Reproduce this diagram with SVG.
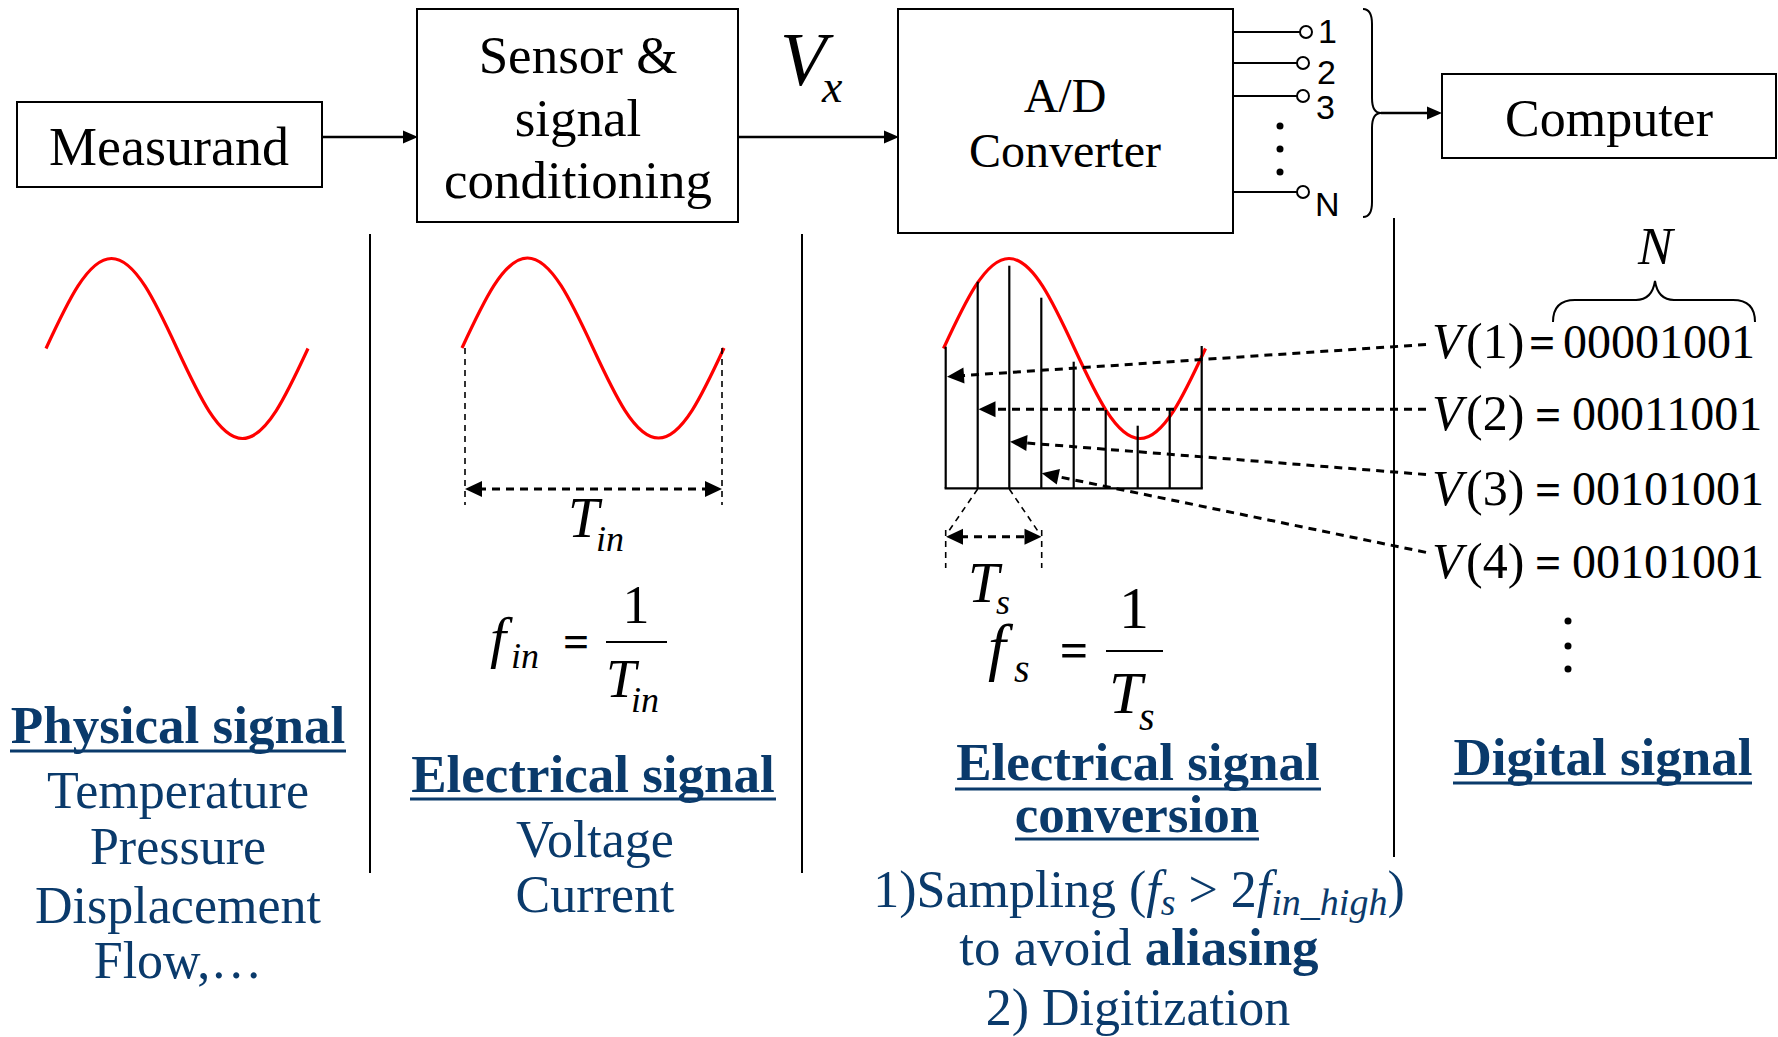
<svg xmlns="http://www.w3.org/2000/svg" width="1778" height="1037" viewBox="0 0 1778 1037">
<style>
.box{fill:#fff;stroke:#000;stroke-width:2}
.t{font-family:"Liberation Serif","Times New Roman",serif;fill:#000}
.a{font-family:"Liberation Sans",Arial,sans-serif;fill:#000;font-size:34px}
.blue{font-family:"Liberation Serif","Times New Roman",serif;fill:#0a3a6b;text-anchor:middle}
.b{font-weight:bold}
.it{font-style:italic}
.ul{stroke:#0a3a6b;stroke-width:3}
.ln{stroke:#000;stroke-width:2;fill:none}
.con{stroke:#000;stroke-width:2.5;fill:none}
.smp{stroke:#000;stroke-width:2.2;fill:none}
.dash{stroke:#000;stroke-width:3;stroke-dasharray:8 6;fill:none}
.dthin{stroke:#000;stroke-width:1.6;stroke-dasharray:6 5;fill:none}
.sine{fill:none;stroke:#ff0000;stroke-width:3.2}
.mid{text-anchor:middle}
.head{fill:#000;stroke:none}
</style>
<defs>
<path id="wave" d="M0 0 C21.36 -46.1 41.8 -90 65.5 -90 C89.2 -90 109.64 -46.1 131 0 C152.36 46.1 172.8 90 196.5 90 C220.2 90 240.64 46.1 262 0"/>
<path id="hs" d="M0 0 L-15 -6.5 L-15 6.5 z"/>
<path id="hd" d="M0 0 L-17 -8 L-17 8 z"/>
</defs>
<rect width="1778" height="1037" fill="#fff"/>

<g id="connectors">
<line class="con" x1="322" y1="137" x2="405" y2="137"/>
<use href="#hs" class="head" transform="translate(418,137)"/>
<line class="con" x1="738" y1="137" x2="886" y2="137"/>
<use href="#hs" class="head" transform="translate(899,137)"/>
<line class="con" x1="1381" y1="113" x2="1430" y2="113"/>
<use href="#hs" class="head" transform="translate(1442,113)"/>
</g>

<g id="measurand">
<rect class="box" x="17" y="102" width="305" height="85"/>
<text class="t mid" x="169" y="165" font-size="54">Measurand</text>
</g>

<g id="sensor">
<rect class="box" x="417" y="9" width="321" height="213"/>
<text class="t mid" x="578" y="73" font-size="53">Sensor &amp;</text>
<text class="t mid" x="578" y="136" font-size="53">signal</text>
<text class="t mid" x="578" y="198" font-size="53">conditioning</text>
</g>

<g id="vx">
<text class="t it" x="780" y="85" font-size="76">V</text>
<text class="t it" x="822" y="102" font-size="46">x</text>
</g>

<g id="adc">
<rect class="box" x="898" y="9" width="335" height="224"/>
<text class="t mid" x="1065" y="112" font-size="48">A/D</text>
<text class="t mid" x="1065" y="167" font-size="48">Converter</text>
</g>

<g id="outputs">
<line class="ln" x1="1233" y1="32" x2="1300" y2="32"/>
<circle cx="1306" cy="32" r="6" fill="#fff" stroke="#000" stroke-width="2"/>
<line class="ln" x1="1233" y1="63" x2="1297" y2="63"/>
<circle cx="1303" cy="63" r="6" fill="#fff" stroke="#000" stroke-width="2"/>
<line class="ln" x1="1233" y1="96" x2="1297" y2="96"/>
<circle cx="1303" cy="96" r="6" fill="#fff" stroke="#000" stroke-width="2"/>
<line class="ln" x1="1233" y1="192" x2="1297" y2="192"/>
<circle cx="1303" cy="192" r="6" fill="#fff" stroke="#000" stroke-width="2"/>
<circle cx="1280" cy="126" r="3.5"/>
<circle cx="1280" cy="149" r="3.5"/>
<circle cx="1280" cy="172" r="3.5"/>
<text class="a" x="1318" y="43">1</text>
<text class="a" x="1317" y="84">2</text>
<text class="a" x="1316" y="119">3</text>
<text class="a" x="1315" y="216">N</text>
<path class="ln" d="M1363 9 Q1372 9 1372 24 L1372 98 Q1372 113 1381 113 Q1372 113 1372 128 L1372 202 Q1372 217 1363 217"/>
</g>

<g id="computer">
<rect class="box" x="1442" y="74" width="334" height="84"/>
<text class="t mid" x="1609" y="136" font-size="52">Computer</text>
</g>

<g id="dividers">
<line class="ln" x1="370" y1="234" x2="370" y2="873"/>
<line class="ln" x1="802" y1="234" x2="802" y2="873"/>
<line class="ln" x1="1394" y1="218" x2="1394" y2="857"/>
</g>

<g id="physical">
<use href="#wave" class="sine" transform="translate(46,348.5)"/>
<text class="blue b" x="178" y="743" font-size="53">Physical signal</text>
<line class="ul" x1="10" y1="751" x2="346" y2="751"/>
<text class="blue" x="178" y="808" font-size="52">Temperature</text>
<text class="blue" x="178" y="864" font-size="52">Pressure</text>
<text class="blue" x="178" y="923" font-size="52">Displacement</text>
<text class="blue" x="178" y="978" font-size="52">Flow,…</text>
</g>

<g id="electrical">
<use href="#wave" class="sine" transform="translate(462,348)"/>
<line class="dthin" x1="465" y1="348" x2="465" y2="505"/>
<line class="dthin" x1="722" y1="348" x2="722" y2="505"/>
<line class="dash" x1="478" y1="489" x2="709" y2="489"/>
<use href="#hd" class="head" transform="translate(465,489) rotate(180)"/>
<use href="#hd" class="head" transform="translate(722,489)"/>
<text class="t it" x="568" y="537" font-size="56">T</text>
<text class="t it" x="596" y="551" font-size="36">in</text>
<text class="t it" x="490" y="657" font-size="58">f</text>
<text class="t it" x="511" y="668" font-size="36">in</text>
<text class="t b mid" x="576" y="657" font-size="46">=</text>
<line x1="606" y1="642" x2="667" y2="642" stroke="#000" stroke-width="2"/>
<text class="t mid" x="636" y="623" font-size="54">1</text>
<text class="t it" x="606" y="697" font-size="54">T</text>
<text class="t it" x="631" y="712" font-size="36">in</text>
<text class="blue b" x="593" y="792" font-size="53">Electrical signal</text>
<line class="ul" x1="410" y1="799" x2="776" y2="799"/>
<text class="blue" x="595" y="857" font-size="52">Voltage</text>
<text class="blue" x="595" y="912" font-size="52">Current</text>
</g>

<g id="conversion">
<use href="#wave" class="sine" transform="translate(943.5,348.5)"/>
<line class="smp" x1="945.7" y1="346.7" x2="945.7" y2="488.3"/>
<line class="smp" x1="977.7" y1="281.7" x2="977.7" y2="488.3"/>
<line class="smp" x1="1009.3" y1="265.7" x2="1009.3" y2="488.3"/>
<line class="smp" x1="1041.3" y1="297.7" x2="1041.3" y2="488.3"/>
<line class="smp" x1="1073.7" y1="361.7" x2="1073.7" y2="488.3"/>
<line class="smp" x1="1105.7" y1="410" x2="1105.7" y2="488.3"/>
<line class="smp" x1="1137.7" y1="425.7" x2="1137.7" y2="488.3"/>
<line class="smp" x1="1169.7" y1="410" x2="1169.7" y2="488.3"/>
<line class="smp" x1="1201.7" y1="346" x2="1201.7" y2="488.3"/>
<line class="smp" x1="944.6" y1="488.3" x2="1202.8" y2="488.3"/>
<line class="dthin" x1="977.7" y1="489" x2="948.3" y2="531.7"/>
<line class="dthin" x1="1009.3" y1="489" x2="1038.3" y2="531.7"/>
<line class="dthin" x1="945.7" y1="530" x2="945.7" y2="568"/>
<line class="dthin" x1="1041.7" y1="530" x2="1041.7" y2="568"/>
<line class="dash" x1="960" y1="536.7" x2="1028" y2="536.7"/>
<use href="#hd" class="head" transform="translate(946,536.7) rotate(180)"/>
<use href="#hd" class="head" transform="translate(1041.5,536.7)"/>
<text class="t it" x="968" y="602" font-size="56">T</text>
<text class="t it" x="996" y="614" font-size="36">s</text>
<text class="t it" x="988" y="668" font-size="64">f</text>
<text class="t it" x="1014" y="682" font-size="40">s</text>
<text class="t b mid" x="1074" y="667" font-size="50">=</text>
<line x1="1106" y1="651" x2="1163" y2="651" stroke="#000" stroke-width="2"/>
<text class="t mid" x="1134" y="628" font-size="60">1</text>
<text class="t it" x="1109" y="713" font-size="60">T</text>
<text class="t it" x="1139" y="730" font-size="40">s</text>
<text class="blue b" x="1138" y="780" font-size="53">Electrical signal</text>
<line class="ul" x1="955" y1="789" x2="1321" y2="789"/>
<text class="blue b" x="1137" y="832" font-size="53">conversion</text>
<line class="ul" x1="1015" y1="839" x2="1259" y2="839"/>
<text class="blue" x="1139" y="907" font-size="52">1)Sampling (<tspan class="it">f</tspan><tspan class="it" font-size="38" dy="8">s</tspan><tspan dy="-8"> &gt; 2</tspan><tspan class="it">f</tspan><tspan class="it" font-size="38" dy="8">in_high</tspan><tspan dy="-8">)</tspan></text>
<text class="blue" x="1139" y="965" font-size="53">to avoid <tspan class="b">aliasing</tspan></text>
<text class="blue" x="1138" y="1025" font-size="52">2) Digitization</text>
</g>

<g id="digital">
<line class="dash" x1="1426" y1="344.5" x2="960" y2="375.8"/>
<use href="#hd" class="head" transform="translate(947,376.7) rotate(176.15)"/>
<line class="dash" x1="1426" y1="409.3" x2="992" y2="409.3"/>
<use href="#hd" class="head" transform="translate(978.5,409.3) rotate(180)"/>
<line class="dash" x1="1426" y1="474.5" x2="1023" y2="442.7"/>
<use href="#hd" class="head" transform="translate(1010,441.7) rotate(184.5)"/>
<line class="dash" x1="1426" y1="552.4" x2="1054" y2="475.8"/>
<use href="#hd" class="head" transform="translate(1041.7,473.3) rotate(191.6)"/>
<text class="t it" x="1638" y="264" font-size="52">N</text>
<path class="ln" d="M1553 322 Q1553 300 1575 300 L1636 300 Q1652 300 1655 281 Q1658 300 1674 300 L1733 300 Q1755 300 1755 322"/>
<text class="t it" x="1432" y="358" font-size="50">V</text>
<text class="t" x="1466" y="358" font-size="50">(1)</text>
<text class="t b" x="1529" y="358" font-size="46">=</text>
<text class="t" x="1563" y="358" font-size="48">00001001</text>
<text class="t it" x="1432" y="430" font-size="50">V</text>
<text class="t" x="1466" y="430" font-size="50">(2)</text>
<text class="t b" x="1535" y="430" font-size="46">=</text>
<text class="t" x="1572" y="430" font-size="48">00011001</text>
<text class="t it" x="1432" y="505" font-size="50">V</text>
<text class="t" x="1466" y="505" font-size="50">(3)</text>
<text class="t b" x="1535" y="505" font-size="46">=</text>
<text class="t" x="1572" y="505" font-size="48">00101001</text>
<text class="t it" x="1432" y="578" font-size="50">V</text>
<text class="t" x="1466" y="578" font-size="50">(4)</text>
<text class="t b" x="1535" y="578" font-size="46">=</text>
<text class="t" x="1572" y="578" font-size="48">00101001</text>
<circle cx="1568" cy="621" r="3.5"/>
<circle cx="1568" cy="646" r="3.5"/>
<circle cx="1568" cy="669" r="3.5"/>
<text class="blue b" x="1603" y="775" font-size="53">Digital signal</text>
<line class="ul" x1="1453" y1="783" x2="1752" y2="783"/>
</g>
</svg>
